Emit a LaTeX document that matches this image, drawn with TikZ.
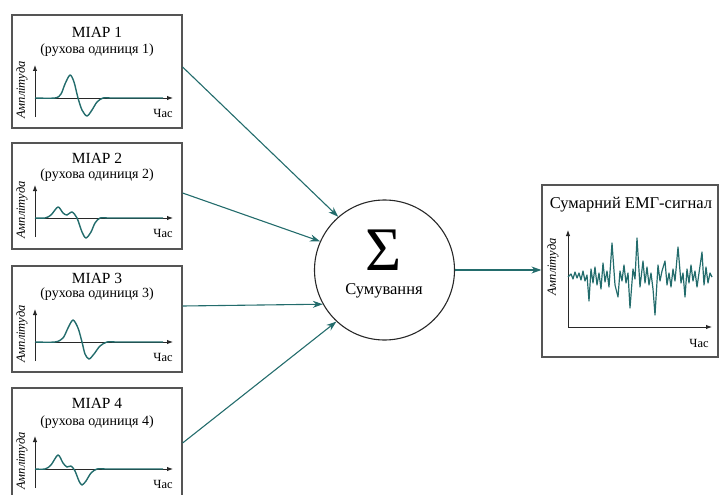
\documentclass[tikz,border=0pt]{standalone}
\usepackage{fontspec}
\setmainfont{Liberation Serif}
\usetikzlibrary{arrows.meta,positioning}
\definecolor{emgteal}{RGB}{35,108,108}
\definecolor{boxgray}{RGB}{85,85,85}
\definecolor{axisgray}{RGB}{40,40,40}

\begin{document}
\begin{tikzpicture}[
  x=1pt, y=-1pt,
  miap/.style={draw=boxgray, line width=1.2pt, minimum width=170pt, inner sep=0pt},
  ttl/.style={font=\fontsize{15.5}{17}\selectfont, inner sep=0pt},
  sub/.style={font=\fontsize{14}{15}\selectfont, inner sep=0pt},
  amp/.style={font=\fontsize{12.5}{13}\selectfont\itshape, rotate=90, inner sep=0pt},
  tlbl/.style={font=\fontsize{12.5}{13}\selectfont, inner sep=0pt},
  axis/.style={-{Latex[length=6pt,width=4.5pt]}, line width=0.9pt, axisgray},
  wave/.style={emgteal, line width=1.4pt, line join=round},
  arr/.style={-{Stealth[length=10pt,width=7pt]}, emgteal, line width=1.1pt},
  miapaxes/.pic={
    \draw[axis] (0,19) -- (0,-33);
    \draw[axis] (0,0) -- (138,0);
    \draw[wave] plot[smooth, tension=0.5] coordinates {#1} -- (128,0);
    \node[amp] (-a) at (-13,-8) {Амплітуда};
    \node[tlbl] (-t) at (128,15) {Час};
  }
]
\clip (0,0) rectangle (723,495);

% MUAP boxes
\node[miap, minimum height=113pt] (m1) at (97,71.5) {};
\node[ttl] (t1) at (97,32) {МІАР 1};
\node[sub] (s1) at (97,50) {(рухова одиниця 1)};
\pic (w1) at (35,98) {miapaxes={(0,0) (20,0) (26,-4) (30,-14) (35,-23) (39,-16) (43,0) (47,12) (52,18) (57,12) (62,4) (68,0) (75,0)}};

\node[miap, minimum height=106pt] (m2) at (97,196) {};
\node[ttl] (t2) at (97,158) {МІАР 2};
\node[sub] (s2) at (97,175) {(рухова одиниця 2)};
\pic (w2) at (35,218) {miapaxes={(0,0) (10,0) (16,-3) (23,-11) (28,-5) (32,-3) (37,-6) (42,0) (47,14) (51,20) (56,14) (60,5) (65,0) (72,0)}};

\node[miap, minimum height=106pt] (m3) at (97,319) {};
\node[ttl] (t3) at (97,278) {МІАР 3};
\node[sub] (s3) at (97,294) {(рухова одиниця 3)};
\pic (w3) at (35,342) {miapaxes={(0,0) (20,0) (28,-4) (33,-14) (38,-22) (43,-14) (47,0) (50,12) (54,17) (59,12) (65,4) (72,0) (80,0)}};

\node[miap, minimum height=120pt] (m4) at (97,448) {};
\node[ttl] (t4) at (97,403) {МІАР 4};
\node[sub] (s4) at (97,422) {(рухова одиниця 4)};
\pic (w4) at (35,469) {miapaxes={(0,0) (10,0) (16,-4) (23,-14) (28,-6) (32,-2) (36,-3) (40,2) (44,12) (47,16) (51,12) (56,4) (62,0) (70,0)}};

% summation
\node[circle, draw=axisgray, line width=1.1pt, minimum size=140pt, inner sep=0pt] (sum) at (384.5,270) {};
\node[inner sep=0pt, text depth=0pt, font=\fontsize{62}{62}\selectfont] (sig) at (384,250) {Σ};
\node[inner sep=0pt, font=\fontsize{16.5}{18}\selectfont] (sumlbl) at (384,291) {Сумування};

% output
\node[miap, minimum width=176pt, minimum height=172pt] (out) at (630,271) {};
\node[ttl, font=\fontsize{16.5}{18}\selectfont] (outttl) at (631,205) {Сумарний ЕМГ-сигнал};
\draw[axis] (568,327) -- (568,230);
\draw[axis] (568,327) -- (712,327);
\draw[wave, line width=1.2pt] plot coordinates {(568,277) (571,274) (573,279) (575,272) (577,278) (579,273) (581,280) (583,271) (585,281) (587,275) (589,301) (591,269) (593,283) (595,267) (597,285) (599,273) (601,289) (603,263) (605,282) (607,271) (609,287) (612,243) (615,285) (618,297) (620,271) (622,281) (624,265) (626,283) (628,273) (630,308) (633,269) (635,279) (637,238) (640,287) (643,261) (645,283) (647,267) (649,285) (651,273) (653,289) (655,315) (658,265) (660,281) (662,271) (665,261) (667,285) (669,273) (671,287) (673,269) (675,281) (678,247) (681,283) (683,273) (685,297) (687,269) (689,283) (691,265) (693,281) (695,271) (697,287) (699,273) (702,252) (704,285) (706,267) (708,283) (710,273) (712,277)};
\node[amp] (outamp) at (553,267) {Амплітуда};
\node[tlbl] (outt) at (699,343) {Час};

% connectors
\draw[arr] ([yshift=4.5pt]m1.east) -- (sum.131);
\draw[arr] ([yshift=3pt]m2.east) -- (sum.156);
\draw[arr] ([yshift=13pt]m3.east) -- (sum.209);
\draw[arr] ([yshift=5pt]m4.east) -- (sum.227);
\draw[arr] (sum.east) -- (sum.east -| out.west);
\end{tikzpicture}
\end{document}
